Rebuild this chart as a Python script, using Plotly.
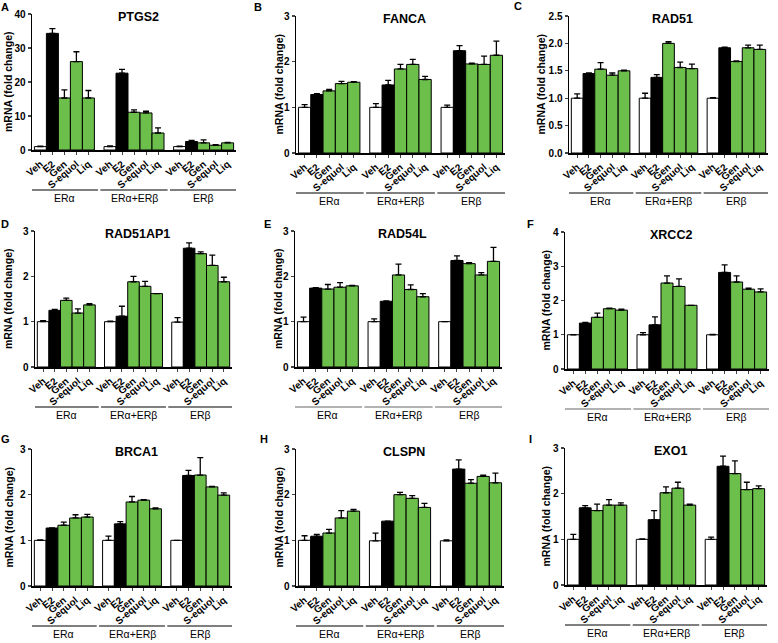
import plotly.graph_objects as go

treatments = ["Veh", "E2", "Gen", "S-equol", "Liq"]
groups = ["ERα", "ERα+ERβ", "ERβ"]
genes = ["PTGS2", "FANCA", "RAD51", "RAD51AP1", "RAD54L", "XRCC2", "BRCA1", "CLSPN", "EXO1"]
letters = ["A", "B", "C", "D", "E", "F", "G", "H", "I"]

ptgs2_mean = [1.0, 34.3, 15.3, 26.0, 15.3, 1.0, 22.6, 11.1, 10.9, 5.0, 1.0, 2.5, 2.1, 1.4, 2.1]
ptgs2_err = [0.1, 1.4, 2.4, 2.9, 2.2, 0.2, 1.1, 0.7, 0.5, 1.5, 0.1, 0.3, 0.9, 0.2, 0.1]
fanca_mean = [1.0, 1.28, 1.36, 1.52, 1.55, 1.0, 1.49, 1.84, 1.94, 1.61, 1.0, 2.24, 1.95, 1.94, 2.14]
fanca_err = [0.06, 0.02, 0.03, 0.05, 0.01, 0.08, 0.1, 0.1, 0.11, 0.07, 0.05, 0.11, 0.02, 0.18, 0.31]
rad51_mean = [1.0, 1.45, 1.53, 1.42, 1.50, 1.0, 1.38, 2.0, 1.56, 1.54, 1.0, 1.92, 1.67, 1.92, 1.89]
rad51_err = [0.08, 0.01, 0.12, 0.04, 0.01, 0.09, 0.05, 0.03, 0.1, 0.08, 0.01, 0.01, 0.01, 0.05, 0.08]
rad51ap1_mean = [1.0, 1.25, 1.47, 1.19, 1.37, 1.0, 1.12, 1.88, 1.78, 1.62, 0.99, 2.62, 2.5, 2.24, 1.88]
rad51ap1_err = [0.02, 0.02, 0.05, 0.09, 0.03, 0.01, 0.22, 0.12, 0.11, 0.0, 0.1, 0.12, 0.04, 0.23, 0.1]
rad54l_mean = [1.0, 1.74, 1.72, 1.76, 1.79, 1.0, 1.45, 2.03, 1.71, 1.55, 1.0, 2.35, 2.28, 2.03, 2.33]
rad54l_err = [0.1, 0.01, 0.1, 0.1, 0.01, 0.06, 0.01, 0.24, 0.1, 0.07, 0.0, 0.1, 0.02, 0.05, 0.31]
xrcc2_mean = [1.0, 1.34, 1.51, 1.76, 1.72, 1.0, 1.29, 2.51, 2.41, 1.86, 1.0, 2.82, 2.54, 2.33, 2.25]
xrcc2_err = [0.0, 0.02, 0.12, 0.02, 0.03, 0.06, 0.23, 0.21, 0.22, 0.0, 0.01, 0.22, 0.18, 0.03, 0.09]
brca1_mean = [1.0, 1.27, 1.33, 1.49, 1.51, 1.0, 1.36, 1.84, 1.88, 1.69, 1.0, 2.42, 2.43, 2.17, 1.99]
brca1_err = [0.01, 0.0, 0.07, 0.07, 0.06, 0.09, 0.05, 0.12, 0.01, 0.02, 0.0, 0.11, 0.38, 0.01, 0.05]
clspn_mean = [1.0, 1.09, 1.16, 1.49, 1.64, 0.99, 1.42, 2.0, 1.92, 1.72, 0.99, 2.56, 2.25, 2.40, 2.26]
clspn_err = [0.1, 0.04, 0.08, 0.16, 0.04, 0.17, 0.0, 0.05, 0.06, 0.09, 0.02, 0.2, 0.08, 0.03, 0.21]
exo1_mean = [1.0, 1.69, 1.63, 1.75, 1.75, 1.0, 1.43, 2.02, 2.12, 1.75, 1.0, 2.6, 2.44, 2.09, 2.11]
exo1_err = [0.11, 0.05, 0.14, 0.12, 0.05, 0.01, 0.2, 0.13, 0.13, 0.02, 0.05, 0.22, 0.28, 0.16, 0.06]

y_max = [40, 3, 2.5, 3, 3, 4, 3, 3, 3]
y_dtick = [10, 1, 0.5, 1, 1, 1, 1, 1, 1]

means = [ptgs2_mean, fanca_mean, rad51_mean, rad51ap1_mean, rad54l_mean,
         xrcc2_mean, brca1_mean, clspn_mean, exo1_mean]
errs = [ptgs2_err, fanca_err, rad51_err, rad51ap1_err, rad54l_err,
        xrcc2_err, brca1_err, clspn_err, exo1_err]

# ---- styling / layout (pixels) ----
W, H = 778, 643
GREEN = "#6cbf4a"
bar_colors = ["white", "black", GREEN, GREEN, GREEN]
GAP = 0.8
# panel plot areas: (x0, x1, y0, y1) in pixels
boxes = [
    (32, 236, 14, 150), (296, 505, 16, 153), (569, 768, 16, 153),
    (35, 232, 231, 367), (295, 502, 231, 367), (565, 769, 232, 369),
    (32, 232, 449, 586), (296, 504, 449, 586), (565, 767, 448, 585),
]
ytitle_x = [8, 278, 540, 8, 278, 545, 8, 278, 545]
letter_pos = [(5, 7), (258, 7), (518, 6), (5, 224), (267, 224), (530, 224),
              (5, 439), (264, 439), (530, 439)]
line_colors = ["black", "black", "black", "black", "#666666", "#666666",
               "black", "black", "black"]

BOLD = dict(family="Arial, Liberation Sans, sans-serif", color="black", weight="bold")

positions = [g * (5 + GAP) + i for g in range(3) for i in range(5)]
tick_text = treatments * 3
colors = bar_colors * 3

fig = go.Figure()
annotations = []
shapes = []

for k in range(9):
    x0, x1, y0, y1 = boxes[k]
    sfx = "" if k == 0 else str(k + 1)
    xa, ya = "x" + sfx, "y" + sfx
    fig.add_trace(go.Bar(
        x=positions, y=means[k], width=1.0,
        marker=dict(color=colors, line=dict(color="black", width=1)),
        error_y=dict(type="data", array=errs[k], arrayminus=[0] * 15,
                     symmetric=False, color="black", thickness=1.3, width=3),
        xaxis=xa, yaxis=ya, showlegend=False, hoverinfo="skip",
    ))
    xdom = [x0 / W, x1 / W]
    ydom = [1 - y1 / H, 1 - y0 / H]
    fig.update_layout(**{
        "xaxis" + sfx: dict(
            domain=xdom, anchor=ya, range=[-0.7, positions[-1] + 0.7],
            tickvals=positions, ticktext=tick_text, tickangle=-40,
            tickfont=dict(BOLD, size=10), ticks="outside", ticklen=3,
            tickwidth=1, showline=True, linecolor="black", linewidth=1.5,
            showgrid=False, zeroline=False, fixedrange=True, automargin=False),
        "yaxis" + sfx: dict(
            domain=ydom, anchor=xa, range=[0, y_max[k]], dtick=y_dtick[k],
            tickformat=".1f" if y_dtick[k] < 1 else "d",
            tickfont=dict(BOLD, size=10), ticks="outside", ticklen=3,
            tickwidth=1.3, showline=True, linecolor="black", linewidth=1.5,
            showgrid=False, zeroline=False, fixedrange=True, automargin=False),
    })
    # title
    annotations.append(dict(
        text=genes[k], xref="paper", yref="paper",
        x=((x0 + x1) / 2 + 4) / W, y=1 - (y0 + 3) / H,
        xanchor="center", yanchor="middle", showarrow=False,
        font=dict(BOLD, size=12.5)))
    # y title
    annotations.append(dict(
        text="mRNA (fold change)", xref="paper", yref="paper",
        x=ytitle_x[k] / W, y=1 - ((y0 + y1) / 2) / H, textangle=-90,
        xanchor="center", yanchor="middle", showarrow=False,
        font=dict(BOLD, size=10.5)))
    # panel letter
    lx, ly = letter_pos[k]
    annotations.append(dict(
        text=letters[k], xref="paper", yref="paper",
        x=lx / W, y=1 - ly / H, xanchor="center", yanchor="middle",
        showarrow=False, font=dict(BOLD, size=11)))
    # group lines and labels
    for g in range(3):
        gx0 = positions[g * 5] - 0.8
        gx1 = positions[g * 5 + 4] + 0.8
        shapes.append(dict(
            type="line", xref=xa, yref="paper", x0=gx0, x1=gx1,
            y0=1 - (y1 + 40) / H, y1=1 - (y1 + 40) / H,
            line=dict(color=line_colors[k], width=1.2)))
        annotations.append(dict(
            text=groups[g], xref=xa, yref="paper",
            x=(gx0 + gx1) / 2, y=1 - (y1 + 48) / H,
            xanchor="center", yanchor="middle", showarrow=False,
            font=dict(family=BOLD["family"], color="black", size=10.5)))

fig.update_layout(
    width=W, height=H, margin=dict(l=0, r=0, t=0, b=0, autoexpand=False),
    paper_bgcolor="white", plot_bgcolor="white",
    annotations=annotations, shapes=shapes, bargap=0,
)
fig.write_html(
    "out.html",
    config={"displayModeBar": False, "staticPlot": True},
    post_script="document.body.style.margin='0';document.body.style.overflow='hidden';",
)
